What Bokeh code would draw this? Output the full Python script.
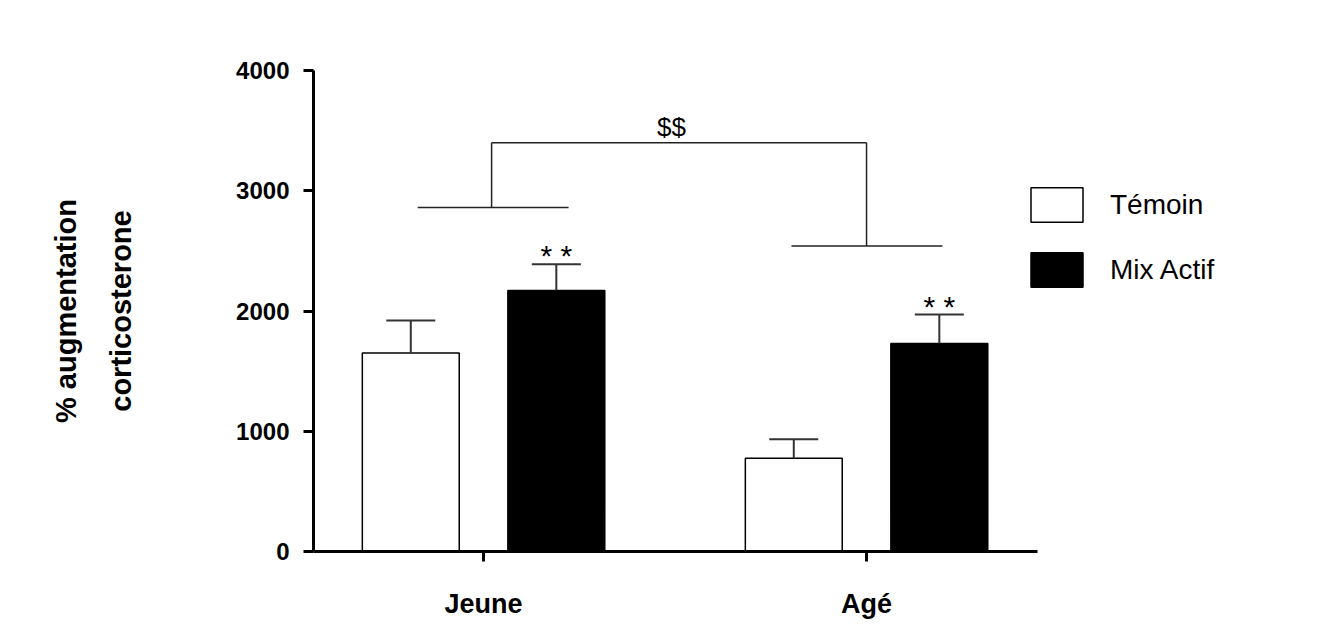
import math
from bokeh.plotting import figure
from bokeh.models import Range1d, FixedTicker, Legend, LegendItem
from bokeh.embed import file_html
from bokeh.resources import INLINE
from bokeh.core.properties import value

# ---- data ----
groups = ["Jeune", "Agé"]
series = ["Témoin", "Mix Actif"]
temoin = [1650, 775]
temoin_err = [272, 158]
mix = [2170, 1730]
mix_err = [218, 240]
y_ticks = [0, 1000, 2000, 3000, 4000]
star_labels = ["* *", "* *"]
group_bracket = [2860, 2540]
top_bracket = 3400
top_label = "$$"
y_title = "% augmentation\ncorticosterone"

# ---- style ----
FONT = "Liberation Sans"
OFF = 0.19
BW = 0.253
CAP = 0.064
X0, X1 = -0.444, 1.446          # extent of the drawn x axis
XEND = X0 + 1017 / 383.0         # frame continues under the legend

idx = list(range(len(groups)))

p = figure(width=1330, height=622, output_backend="svg", toolbar_location=None,
           x_range=Range1d(X0, XEND), y_range=Range1d(0, 4000),
           min_border_left=313, min_border_right=0, min_border_top=70,
           min_border_bottom=71)
p.outline_line_color = None
p.xgrid.visible = False
p.ygrid.visible = False

xt = [i - OFF for i in idx]
xm = [i + OFF for i in idx]

r_t = p.vbar(x=xt, top=temoin, width=BW, fill_color="white", line_color="black", line_width=1.5)
r_m = p.vbar(x=xm, top=mix, width=BW, fill_color="black", line_color="black", line_width=1.5)

# error bars (upper only)
for xs, vals, errs in ((xt, temoin, temoin_err), (xm, mix, mix_err)):
    tops = [v + e for v, e in zip(vals, errs)]
    p.segment(x0=xs, y0=vals, x1=xs, y1=tops, line_color="#333333", line_width=2)
    p.segment(x0=[x - CAP for x in xs], y0=tops, x1=[x + CAP for x in xs], y1=tops,
              line_color="#333333", line_width=2)

# significance stars
star_y = [v + e for v, e in zip(mix, mix_err)]
p.text(x=xm, y=star_y, text=star_labels, text_font=value(FONT), text_font_size="30px",
       text_align="center", text_baseline="bottom", y_offset=8, text_color="black")

# group brackets
left_off = [-0.172, -0.196]
right_off = [0.222, 0.198]
vert_off = [0.021, 0.0]
p.segment(x0=[i + l for i, l in zip(idx, left_off)], y0=group_bracket,
          x1=[i + r for i, r in zip(idx, right_off)], y1=group_bracket,
          line_color="#222222", line_width=1.5)
vx = [i + v for i, v in zip(idx, vert_off)]
p.segment(x0=vx, y0=group_bracket, x1=vx, y1=[top_bracket] * len(idx),
          line_color="#222222", line_width=1.5)
p.segment(x0=[vx[0]], y0=[top_bracket], x1=[vx[1]], y1=[top_bracket],
          line_color="#222222", line_width=1.5)
p.text(x=[(vx[0] + vx[1]) / 2 - 0.02], y=[top_bracket], text=[top_label],
       text_font=value(FONT), text_font_size="26px", text_align="center",
       text_baseline="bottom", y_offset=-1, text_color="black")

# axes
for ax in (p.xaxis[0], p.yaxis[0]):
    ax.axis_line_width = 3
    ax.axis_line_color = "black"
    ax.major_tick_line_width = 3
    ax.major_tick_line_color = "black"
    ax.major_tick_out = 10
    ax.major_tick_in = 0
    ax.minor_tick_line_color = None
    ax.major_label_text_font = FONT
    ax.major_label_text_font_style = "bold"
    ax.major_label_text_color = "black"

p.yaxis.ticker = FixedTicker(ticks=y_ticks)
p.yaxis.major_label_text_font_size = "24px"
p.yaxis.major_label_standoff = 14
p.yaxis.axis_label = y_title
p.yaxis.axis_label_text_font = FONT
p.yaxis.axis_label_text_font_style = "bold"
p.yaxis.axis_label_text_font_size = "29px"
p.yaxis.axis_label_text_line_height = 1.72
p.yaxis.axis_label_text_color = "black"
p.yaxis.axis_label_standoff = 96

p.xaxis.ticker = FixedTicker(ticks=idx)
p.xaxis.bounds = (X0, X1)
p.xaxis.major_label_overrides = {i: g for i, g in enumerate(groups)}
p.xaxis.major_label_text_font_size = "27px"
p.xaxis.major_label_standoff = 27

# legend
legend = Legend(items=[LegendItem(label=series[0], renderers=[r_t]),
                       LegendItem(label=series[1], renderers=[r_m])],
                location=(711, 260), padding=0, margin=0, spacing=22,
                glyph_width=65, glyph_height=43, label_height=43, label_standoff=21,
                label_text_font=FONT, label_text_font_size="28px",
                label_text_color="black",
                border_line_color=None, background_fill_alpha=0)
p.add_layout(legend, "center")

open("out.html", "w").write(file_html(p, INLINE))
